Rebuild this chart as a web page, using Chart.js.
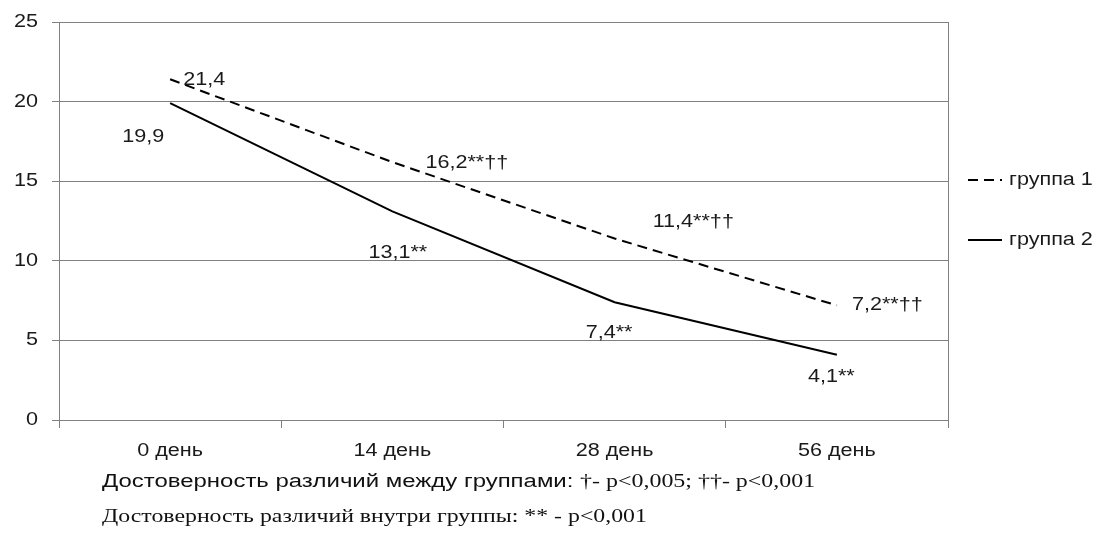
<!DOCTYPE html>
<html>
<head>
<meta charset="utf-8">
<script src="https://cdn.jsdelivr.net/npm/chart.js@4/dist/chart.umd.min.js"></script>
<style>
  body { margin: 0; background: #fff; }
  #wrap { position: relative; width: 1104px; height: 538px; }
  .note { position: absolute; left: 102px; color: #111; white-space: nowrap; transform-origin: 0 50%; }
  #note1 { top: 471px; font: 18px "Liberation Sans", Arial, sans-serif; }
  #note1 .s { font-family: "Liberation Serif", "Times New Roman", serif; }
  #note2 { top: 506px; font: 18px "Liberation Serif", "Times New Roman", serif; }
</style>
</head>
<body>
<div id="wrap">
  <canvas id="grafico" width="1104" height="538"></canvas>
  <div class="note" id="note1">Достоверность различий между группами: <span class="s">†- p&lt;0,005; ††- p&lt;0,001</span></div>
  <div class="note" id="note2">Достоверность различий внутри группы: ** - p&lt;0,001</div>
</div>
<script>
const dias = ["0 день", "14 день", "28 день", "56 день"];
const grupo1 = [21.4, 16.2, 11.4, 7.2];
const grupo2 = [19.9, 13.1, 7.4, 4.1];
const rotulos1 = ["21,4", "16,2**††", "11,4**††", "7,2**††"];
const rotulos2 = ["19,9", "13,1**", "7,4**", "4,1**"];

// deslocamento dos rótulos em relação ao ponto (px)
const desloc1 = [[13, 1], [33, 1], [38, -16], [15, 0]];
const desloc2 = [[-48, 34], [-24, 42], [-29, 31], [-29, 22]];

const corTexto = "#1a1a1a";
const fonte = '18px "Liberation Sans", Arial, sans-serif';
const esticar = 1.2; // o original tem o texto um pouco alargado

function textoLargo(ctx, txt, x, y, align) {
  ctx.save();
  ctx.translate(x, y);
  ctx.scale(esticar, 1);
  ctx.textAlign = align;
  ctx.fillText(txt, 0, 0);
  ctx.restore();
}

// rótulos, eixos, borda direita e legenda desenhados à mão
const extras = {
  id: "extras",
  afterDraw(chart) {
    const ctx = chart.ctx;
    const area = chart.chartArea;
    ctx.save();
    ctx.strokeStyle = "#808080";
    ctx.lineWidth = 1;
    ctx.beginPath();
    ctx.moveTo(Math.round(area.right) + 0.5, area.top);
    ctx.lineTo(Math.round(area.right) + 0.5, area.bottom);
    ctx.stroke();

    ctx.font = fonte;
    ctx.fillStyle = corTexto;
    ctx.textBaseline = "middle";

    const sy = chart.scales.y;
    sy.ticks.forEach((t, i) => {
      textoLargo(ctx, String(t.value), 38, sy.getPixelForTick(i), "right");
    });
    const sx = chart.scales.x;
    chart.data.labels.forEach((lab, i) => {
      textoLargo(ctx, lab, sx.getPixelForTick(i), 451, "center");
    });

    const pares = [[rotulos1, desloc1], [rotulos2, desloc2]];
    pares.forEach(([rot, des], i) => {
      const meta = chart.getDatasetMeta(i);
      meta.data.forEach((p, j) => {
        textoLargo(ctx, rot[j], p.x + des[j][0], p.y + des[j][1], "left");
      });
    });

    // legenda
    const lx = area.right + 20;
    chart.data.datasets.forEach((ds, i) => {
      const y = 180 + i * 60;
      ctx.strokeStyle = "#000";
      ctx.lineWidth = 2;
      ctx.setLineDash(ds.borderDash || []);
      ctx.beginPath();
      ctx.moveTo(lx, y);
      ctx.lineTo(lx + 34, y);
      ctx.stroke();
      ctx.setLineDash([]);
      textoLargo(ctx, ds.label, lx + 41, y, "left");
    });
    ctx.restore();
  },
};

new Chart(document.getElementById("grafico"), {
  type: "line",
  data: {
    labels: dias,
    datasets: [
      {
        label: "группа 1",
        data: grupo1,
        borderColor: "#000",
        borderWidth: 2,
        borderDash: [10, 6],
        pointRadius: 0,
        tension: 0,
      },
      {
        label: "группа 2",
        data: grupo2,
        borderColor: "#000",
        borderWidth: 2,
        pointRadius: 0,
        tension: 0,
      },
    ],
  },
  options: {
    responsive: false,
    animation: false,
    layout: { padding: { top: 22, right: 156, left: 0, bottom: 0 } },
    plugins: { legend: { display: false }, tooltip: { enabled: false } },
    scales: {
      x: {
        offset: true,
        grid: { offset: true, drawOnChartArea: false, tickLength: 8, color: "#808080" },
        border: { color: "#808080" },
        ticks: { display: false },
        afterFit(scale) { scale.height = 118; },
      },
      y: {
        min: 0,
        max: 25,
        ticks: { stepSize: 5, display: false },
        grid: { color: "#808080", tickLength: 7 },
        border: { color: "#808080" },
        afterFit(scale) { scale.width = 59; },
      },
    },
  },
  plugins: [extras],
});

// ajusta a largura das notas de rodapé à do original
const larguras = { note1: 713, note2: 545 };
Object.keys(larguras).forEach((id) => {
  const el = document.getElementById(id);
  el.style.transform = "scaleX(" + (larguras[id] / el.offsetWidth) + ")";
});
</script>
</body>
</html>
